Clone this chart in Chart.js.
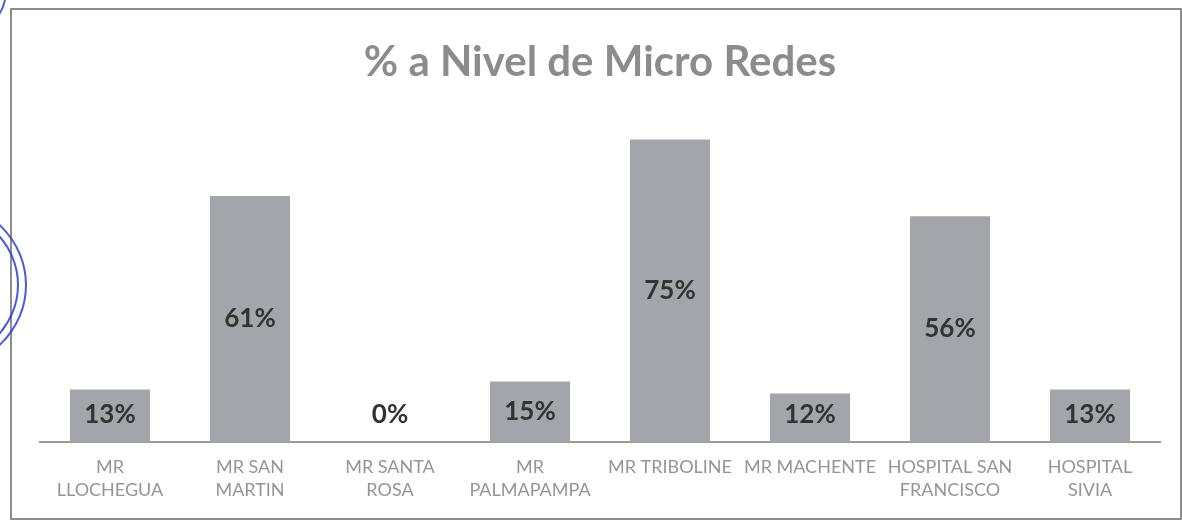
<!DOCTYPE html>
<html>
<head>
<meta charset="utf-8">
<script src="https://cdn.jsdelivr.net/npm/chart.js@4/dist/chart.umd.min.js"></script>
<style>
  html, body { margin: 0; padding: 0; background: #fff; }
  #wrap { width: 1182px; height: 521px; position: relative; }
</style>
</head>
<body>
<div id="wrap"><canvas id="chart" width="1182" height="521"></canvas></div>
<script>
const categories = [
    ['MR', 'LLOCHEGUA'],
    ['MR SAN', 'MARTIN'],
    ['MR SANTA', 'ROSA'],
    ['MR', 'PALMAPAMPA'],
    ['MR TRIBOLINE'],
    ['MR MACHENTE'],
    ['HOSPITAL SAN', 'FRANCISCO'],
    ['HOSPITAL', 'SIVIA']
];
const percentValues = [13, 61, 0, 15, 75, 12, 56, 13];
const chartTitle = '% a Nivel de Micro Redes';

// frame + scanned stamp decoration
const framePlugin = {
    id: 'frame',
    beforeDraw: (chart) => {
        const ctx = chart.ctx;
        ctx.save();
        ctx.fillStyle = '#ffffff';
        ctx.fillRect(0, 0, chart.width, chart.height);
        ctx.strokeStyle = '#8e8e8e';
        ctx.lineWidth = 2;
        ctx.strokeRect(11, 9, 1170, 510);
        ctx.restore();
    },
    afterDraw: (chart) => {
        const ctx = chart.ctx;
        ctx.save();
        ctx.strokeStyle = 'rgba(40, 60, 220, 0.85)';
        ctx.lineWidth = 2;
        ctx.beginPath();
        ctx.ellipse(-62, 285, 88, 84, 0, 0, Math.PI * 2);
        ctx.stroke();
        ctx.beginPath();
        ctx.ellipse(-62, 285, 80, 76, 0, 0, Math.PI * 2);
        ctx.stroke();
        ctx.beginPath();
        ctx.ellipse(-40, -10, 46, 46, 0, 0, Math.PI * 2);
        ctx.stroke();
        ctx.restore();
    }
};

// value labels inside the bars
const valueLabels = {
    id: 'valueLabels',
    afterDatasetsDraw: (chart) => {
        const ctx = chart.ctx;
        const meta = chart.getDatasetMeta(0);
        const base = chart.scales.y.getPixelForValue(0);
        ctx.save();
        ctx.font = 'bold 26px Lato';
        ctx.fillStyle = '#333333';
        ctx.textAlign = 'center';
        ctx.textBaseline = 'middle';
        meta.data.forEach((bar, i) => {
            let y = (bar.y + base) / 2;
            if (y > base - 27) y = base - 27;
            ctx.fillText(percentValues[i] + '%', bar.x, y);
        });
        ctx.restore();
    }
};

const config = {
    type: 'bar',
    data: {
        labels: categories,
        datasets: [{
            data: percentValues,
            backgroundColor: '#a4a5aa',
            barPercentage: 0.8,
            categoryPercentage: 0.715
        }]
    },
    options: {
        responsive: false,
        animation: false,
        layout: {
            padding: { left: 40, right: 22, top: 0, bottom: 5 }
        },
        plugins: {
            legend: { display: false },
            tooltip: { enabled: false },
            title: {
                display: true,
                text: chartTitle,
                color: '#8c8c8c',
                font: { family: 'Lato', size: 42, weight: 'bold', lineHeight: 1.2 },
                padding: { top: 37, bottom: 32 }
            }
        },
        scales: {
            x: {
                grid: { display: false, drawTicks: false },
                border: { display: true, color: '#9a9a9a', width: 2 },
                ticks: {
                    color: '#959595',
                    padding: 14,
                    maxRotation: 0,
                    autoSkip: false,
                    font: { family: 'Lato', size: 18, lineHeight: 1.28 }
                }
            },
            y: {
                display: false,
                min: 0,
                max: 80
            }
        }
    },
    plugins: [framePlugin, valueLabels]
};

let chart = new Chart(document.getElementById('chart'), config);
</script>
</body>
</html>
